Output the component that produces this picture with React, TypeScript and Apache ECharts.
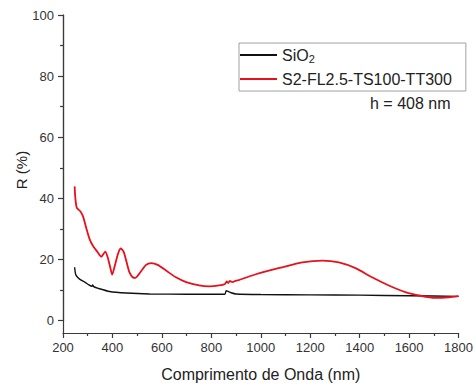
import React, { useEffect, useRef } from "react";
import * as echarts from "echarts";

const xTicks = [200, 400, 600, 800, 1000, 1200, 1400, 1600, 1800];
const yMin = -5;
const yMax = 100;
const yInterval = 20;

const seriesNames = ["SiO₂", "S2-FL2.5-TS100-TT300"];

const redX = [247, 250, 256, 270, 281, 294, 308, 321, 341, 355, 361, 371, 381, 391, 399, 408, 422, 433, 445, 456, 469, 482, 493, 505, 536, 557, 583, 617, 657, 698, 751, 792, 832, 855, 862, 868, 875, 885, 900, 913, 980, 1087, 1168, 1249, 1316, 1383, 1450, 1518, 1585, 1646, 1706, 1760, 1800];
const redY = [43.4, 39.5, 36.3, 35.2, 33.5, 29.7, 25.9, 23.8, 21.6, 20.2, 20.8, 21.9, 19.9, 16.7, 14.3, 16.7, 21.0, 22.9, 21.9, 18.8, 15.0, 13.4, 13.2, 14.2, 17.5, 18.1, 17.5, 15.6, 13.4, 11.8, 10.7, 10.4, 10.7, 11.2, 12.0, 11.5, 12.2, 11.8, 12.3, 12.5, 14.4, 16.7, 18.3, 18.9, 18.3, 16.4, 13.4, 10.7, 8.5, 7.3, 6.6, 6.8, 7.2];

const blackX = [247, 250, 254, 267, 288, 305, 316, 320, 324, 348, 388, 456, 550, 700, 855, 860, 866, 880, 900, 1000, 1200, 1400, 1600, 1800];
const blackY = [16.7, 14.8, 13.9, 12.8, 11.8, 10.9, 10.4, 10.9, 10.3, 9.6, 8.7, 8.2, 7.9, 7.8, 7.8, 9.0, 8.8, 8.3, 7.9, 7.7, 7.6, 7.5, 7.3, 7.1];

const annotation = "h = 408 nm";
const xName = "Comprimento de Onda (nm)";
const yName = "R (%)";

const FONT = "'Liberation Sans', Arial, sans-serif";
const AXIS = "#3a3a3a";

export default function App() {
  const ref = useRef<HTMLDivElement>(null);
  useEffect(() => {
    if (!ref.current) return;
    const chart = echarts.init(ref.current, undefined, { renderer: "svg" });
    const zip = (xs: number[], ys: number[]) => xs.map((x, i) => [x, ys[i]]);
    const gridTop = 15;
    const gridBottom = 51;
    const plotH = 387 - gridTop - gridBottom;
    const overlayBottom = gridBottom + (plotH * (0 - yMin)) / (yMax - yMin);
    chart.setOption({
      animation: false,
      textStyle: { fontFamily: FONT },
      grid: [
        { left: 63, right: 16, top: gridTop, bottom: gridBottom },
        { left: 63, right: 16, top: gridTop, bottom: overlayBottom },
      ],
      legend: {
        orient: "vertical",
        left: 239,
        top: 43,
        padding: [2, 14, 2, 1],
        itemGap: 4,
        itemWidth: 37,
        itemHeight: 2,
        icon: "rect",
        borderColor: "#a0a0a0",
        borderWidth: 1,
        data: [
          { name: seriesNames[0], itemStyle: { color: "#111" } },
          { name: seriesNames[1], itemStyle: { color: "#e8101a" } },
        ],
        formatter: (n: string) => (n === seriesNames[0] ? "SiO{sub|2}" : n),
        textStyle: {
          fontSize: 16,
          color: "#222",
          lineHeight: 20,
          rich: {
            sub: { fontSize: 11, lineHeight: 20, padding: [8, 0, 0, 0], color: "#222" },
          },
        },
      },
      xAxis: [
        {
          type: "value",
          gridIndex: 0,
          min: 200,
          max: 1800,
          interval: 200,
          name: xName,
          nameLocation: "middle",
          nameGap: 33,
          nameTextStyle: { fontSize: 16, color: "#222" },
          axisLine: { show: true, onZero: false, lineStyle: { color: AXIS, width: 1.2 } },
          axisTick: { show: true, length: 5, lineStyle: { color: AXIS, width: 1.2 } },
          minorTick: { show: true, splitNumber: 2, length: 3, lineStyle: { color: AXIS, width: 1.2 } },
          axisLabel: {
            fontSize: 13,
            color: "#333",
            margin: 8,
            showMinLabel: true,
            showMaxLabel: true,
            formatter: (v: number) => (xTicks.includes(v) ? String(v) : ""),
          },
          splitLine: { show: false },
        },
        {
          type: "value",
          gridIndex: 1,
          min: 200,
          max: 1800,
          show: false,
        },
      ],
      yAxis: [
        {
          type: "value",
          gridIndex: 0,
          min: yMin,
          max: yMax,
          axisLine: { show: true, onZero: false, lineStyle: { color: AXIS, width: 1.2 } },
          axisTick: { show: false },
          axisLabel: { show: false },
          splitLine: { show: false },
        },
        {
          type: "value",
          gridIndex: 1,
          min: 0,
          max: yMax,
          interval: yInterval,
          axisLine: { show: true, onZero: false, lineStyle: { color: AXIS, width: 1.2 } },
          axisTick: { show: true, inside: false, length: 5, lineStyle: { color: AXIS, width: 1.2 } },
          minorTick: { show: true, splitNumber: 2, length: 3, lineStyle: { color: AXIS, width: 1.2 } },
          axisLabel: { fontSize: 13, color: "#333", margin: 9 },
          splitLine: { show: false },
        },
      ],
      graphic: [
        {
          type: "text",
          x: 370,
          y: 103,
          style: { text: annotation, fontSize: 16, fontFamily: FONT, fill: "#222", verticalAlign: "middle" },
        },
        {
          type: "text",
          x: 21,
          y: 170,
          rotation: Math.PI / 2,
          style: { text: yName, fontSize: 15, fontFamily: FONT, fill: "#222", align: "center", verticalAlign: "middle" },
        },
      ],
      series: [
        {
          name: seriesNames[0],
          type: "line",
          xAxisIndex: 0,
          yAxisIndex: 0,
          data: zip(blackX, blackY),
          showSymbol: false,
          symbol: "none",
          smooth: 0.2,
          lineStyle: { color: "#111", width: 1.4 },
          itemStyle: { color: "#111" },
        },
        {
          name: seriesNames[1],
          type: "line",
          xAxisIndex: 0,
          yAxisIndex: 0,
          data: zip(redX, redY),
          showSymbol: false,
          symbol: "none",
          smooth: 0.25,
          lineStyle: { color: "#e8101a", width: 1.8 },
          itemStyle: { color: "#e8101a" },
        },
      ],
    });
    return () => chart.dispose();
  }, []);
  return (
    <div
      ref={ref}
      style={{ position: "fixed", left: 0, top: 0, width: 476, height: 387, background: "#fff" }}
    />
  );
}
